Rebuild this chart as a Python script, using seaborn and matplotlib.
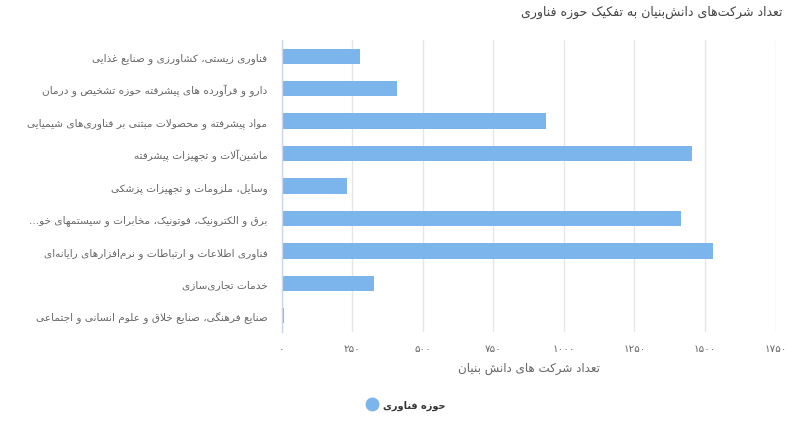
import matplotlib
matplotlib.use("Agg")
import matplotlib.pyplot as plt
import seaborn as sns
import pandas as pd
from matplotlib.lines import Line2D
from matplotlib.ticker import FuncFormatter

# ---------------- data ----------------
categories = [
    "فناوری زیستی، کشاورزی و صنایع غذایی",
    "دارو و فرآورده های پیشرفته حوزه تشخیص و درمان",
    "مواد پیشرفته و محصولات مبتنی بر فناوری‌های شیمیایی",
    "ماشین‌آلات و تجهیزات پیشرفته",
    "وسایل، ملزومات و تجهیزات پزشکی",
    "برق و الکترونیک، فوتونیک، مخابرات و سیستمهای خو...",
    "فناوری اطلاعات و ارتباطات و نرم‌افزارهای رایانه‌ای",
    "خدمات تجاری‌سازی",
    "صنایع فرهنگی، صنایع خلاق و علوم انسانی و اجتماعی",
]
values = [278, 409, 937, 1454, 232, 1415, 1529, 328, 9]
series_name = "حوزه فناوری"
title_text = "تعداد شرکت‌های دانش‌بنیان به تفکیک حوزه فناوری"
xlabel_text = "تعداد شرکت های دانش بنیان"
xticks = [0, 250, 500, 750, 1000, 1250, 1500, 1750]

# ---------------- simple Arabic/Persian shaping ----------------
# (isolated, final, initial, medial)
FORMS = {
    '\u0621': ('\uFE80', None, None, None),
    '\u0622': ('\uFE81', '\uFE82', None, None),
    '\u0623': ('\uFE83', '\uFE84', None, None),
    '\u0624': ('\uFE85', '\uFE86', None, None),
    '\u0625': ('\uFE87', '\uFE88', None, None),
    '\u0626': ('\uFE89', '\uFE8A', '\uFE8B', '\uFE8C'),
    '\u0627': ('\uFE8D', '\uFE8E', None, None),
    '\u0628': ('\uFE8F', '\uFE90', '\uFE91', '\uFE92'),
    '\u0629': ('\uFE93', '\uFE94', None, None),
    '\u062A': ('\uFE95', '\uFE96', '\uFE97', '\uFE98'),
    '\u062B': ('\uFE99', '\uFE9A', '\uFE9B', '\uFE9C'),
    '\u062C': ('\uFE9D', '\uFE9E', '\uFE9F', '\uFEA0'),
    '\u062D': ('\uFEA1', '\uFEA2', '\uFEA3', '\uFEA4'),
    '\u062E': ('\uFEA5', '\uFEA6', '\uFEA7', '\uFEA8'),
    '\u062F': ('\uFEA9', '\uFEAA', None, None),
    '\u0630': ('\uFEAB', '\uFEAC', None, None),
    '\u0631': ('\uFEAD', '\uFEAE', None, None),
    '\u0632': ('\uFEAF', '\uFEB0', None, None),
    '\u0633': ('\uFEB1', '\uFEB2', '\uFEB3', '\uFEB4'),
    '\u0634': ('\uFEB5', '\uFEB6', '\uFEB7', '\uFEB8'),
    '\u0635': ('\uFEB9', '\uFEBA', '\uFEBB', '\uFEBC'),
    '\u0636': ('\uFEBD', '\uFEBE', '\uFEBF', '\uFEC0'),
    '\u0637': ('\uFEC1', '\uFEC2', '\uFEC3', '\uFEC4'),
    '\u0638': ('\uFEC5', '\uFEC6', '\uFEC7', '\uFEC8'),
    '\u0639': ('\uFEC9', '\uFECA', '\uFECB', '\uFECC'),
    '\u063A': ('\uFECD', '\uFECE', '\uFECF', '\uFED0'),
    '\u0641': ('\uFED1', '\uFED2', '\uFED3', '\uFED4'),
    '\u0642': ('\uFED5', '\uFED6', '\uFED7', '\uFED8'),
    '\u0643': ('\uFED9', '\uFEDA', '\uFEDB', '\uFEDC'),
    '\u0644': ('\uFEDD', '\uFEDE', '\uFEDF', '\uFEE0'),
    '\u0645': ('\uFEE1', '\uFEE2', '\uFEE3', '\uFEE4'),
    '\u0646': ('\uFEE5', '\uFEE6', '\uFEE7', '\uFEE8'),
    '\u0647': ('\uFEE9', '\uFEEA', '\uFEEB', '\uFEEC'),
    '\u0648': ('\uFEED', '\uFEEE', None, None),
    '\u0649': ('\uFEEF', '\uFEF0', None, None),
    '\u064A': ('\uFEF1', '\uFEF2', '\uFEF3', '\uFEF4'),
    '\u067E': ('\uFB56', '\uFB57', '\uFB58', '\uFB59'),
    '\u0686': ('\uFB7A', '\uFB7B', '\uFB7C', '\uFB7D'),
    '\u0698': ('\uFB8A', '\uFB8B', None, None),
    '\u06A9': ('\uFB8E', '\uFB8F', '\uFB90', '\uFB91'),
    '\u06AF': ('\uFB92', '\uFB93', '\uFB94', '\uFB95'),
    '\u06CC': ('\uFBFC', '\uFBFD', '\uFBFE', '\uFBFF'),
}
LAM_ALEF = {
    '\u0627': ('\uFEFB', '\uFEFC'),
    '\u0622': ('\uFEF5', '\uFEF6'),
    '\u0623': ('\uFEF7', '\uFEF8'),
    '\u0625': ('\uFEF9', '\uFEFA'),
}


def dual(c):
    return c in FORMS and FORMS[c][2] is not None


def shape(text):
    out = []
    chars = list(text)
    n = len(chars)
    i = 0
    while i < n:
        c = chars[i]
        if c not in FORMS:
            out.append(c)
            i += 1
            continue
        prev = chars[i - 1] if i > 0 else None
        joins_prev = prev is not None and dual(prev)
        nxt = chars[i + 1] if i + 1 < n else None
        if c == '\u0644' and nxt in LAM_ALEF:
            out.append(LAM_ALEF[nxt][1 if joins_prev else 0])
            i += 2
            continue
        joins_next = dual(c) and nxt in FORMS
        iso, fin, ini, med = FORMS[c]
        if joins_prev and joins_next:
            g = med
        elif joins_prev:
            g = fin
        elif joins_next:
            g = ini
        else:
            g = iso
        out.append(g)
        i += 1
    s = ''.join(out).replace('\u200c', '')
    return s[::-1]


PERSIAN_DIGITS = str.maketrans('0123456789', '۰۱۲۳۴۵۶۷۸۹')


def fa_num(v, pos=None):
    return str(int(round(v))).translate(PERSIAN_DIGITS)


# ---------------- plot ----------------
sns.set_theme(style="white")
plt.rcParams['font.family'] = ['DejaVu Sans']

df = pd.DataFrame({"cat": [shape(c) for c in categories], "val": values})

fig = plt.figure(figsize=(7.92, 4.39), dpi=100)
ax = fig.add_axes([281.5 / 792, 1 - 333 / 439, (775.5 - 281.5) / 792, (333 - 41) / 439])

sns.barplot(data=df, x="val", y="cat", orient="h", color="#7cb5ec",
            saturation=1, width=0.47, ax=ax, zorder=3, linewidth=0)

ax.set_xlim(0, 1750)
ax.set_xticks(xticks)
ax.xaxis.set_major_formatter(FuncFormatter(fa_num))
ax.grid(axis="x", color="#e6e6e6", linewidth=1, zorder=0)
ax.grid(axis="y", visible=False)
ax.set_axisbelow(True)
for s in ["top", "right", "bottom"]:
    ax.spines[s].set_visible(False)
ax.spines["left"].set_color("#ccd6eb")
ax.spines["left"].set_linewidth(1)
ax.spines["left"].set_zorder(4)

ax.tick_params(axis="both", length=0)
ax.tick_params(axis="y", pad=10, labelsize=7.55, labelcolor="#666666")
ax.tick_params(axis="x", pad=8, labelsize=7.5, labelcolor="#666666")

ax.set_ylabel("")
ax.set_xlabel(shape(xlabel_text), fontsize=8.6, color="#666666", labelpad=6)

fig.text(0.988, 1 - 12 / 439, shape(title_text), ha="right", va="center",
         fontsize=9.0, color="#444444")

handle = Line2D([0], [0], marker="o", linestyle="none", markersize=9,
                markerfacecolor="#7cb5ec", markeredgecolor="#7cb5ec")
fig.legend([handle], [shape(series_name)], loc="center",
           bbox_to_anchor=(404 / 792, 1 - 406 / 439), frameon=False,
           handletextpad=0.2, prop={"size": 7.0, "weight": "bold"},
           labelcolor="#333333")

fig.savefig("out.png", dpi=100)
